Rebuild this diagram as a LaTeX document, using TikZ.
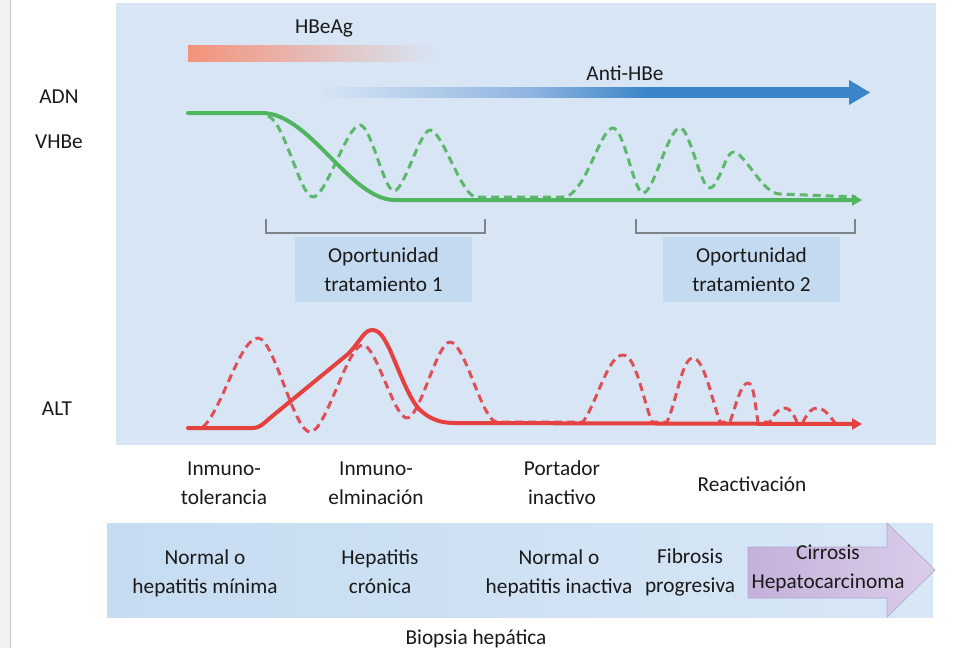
\documentclass[tikz,border=0pt]{standalone}
\usepackage{fontspec}
\setmainfont{Carlito}
\usetikzlibrary{arrows.meta}
\definecolor{panel}{HTML}{D7E5F5}
\definecolor{oppbox}{HTML}{C4DAF0}
\definecolor{salmon}{HTML}{F4927A}
\definecolor{antiblue}{HTML}{3A84C8}
\definecolor{antimid}{HTML}{8FB4E0}
\definecolor{grn}{HTML}{4FB55E}
\definecolor{grnd}{HTML}{5DB86C}
\definecolor{redl}{HTML}{E5413F}
\definecolor{redd}{HTML}{DF4F57}
\definecolor{bracketgray}{HTML}{808488}
\definecolor{bandL}{HTML}{C6DCF1}
\definecolor{bandR}{HTML}{D8E7F6}
\definecolor{purL}{HTML}{C5B0DA}
\definecolor{purR}{HTML}{DACDE9}
\definecolor{purB}{HTML}{B3A8D4}
\definecolor{txt}{HTML}{1A1A1A}
\pgfdeclarehorizontalshading{antishade}{100bp}{color(0bp)=(panel); color(25bp)=(panel); color(45bp)=(antimid); color(56bp)=(antiblue); color(75bp)=(antiblue); color(100bp)=(antiblue)}
\begin{document}
\begin{tikzpicture}[x=1pt,y=-1pt,
  lbl/.style={font=\fontsize{21.3}{29}\selectfont, text=txt, align=center, inner sep=0pt},
  solidcurve/.style={line width=4pt, line cap=round, line join=round},
  dashcurve/.style={line width=3pt, dash pattern=on 8pt off 5pt, line join=round},
  brk/.style={draw=bracketgray, line width=1.6pt},
  tipst/.style={-{Triangle[length=10pt,width=11pt]}}]

\useasboundingbox (0,0) rectangle (960,648);
\fill[white] (0,0) rectangle (960,648);
\fill[gray!10] (0,0) rectangle (10,648);
\draw[gray!45, line width=1.2pt] (10.5,0) -- (10.5,648);

% upper panel
\fill[panel] (116,3) rectangle (936,445);

% HBeAg bar
\shade[left color=salmon, right color=panel] (188,45) rectangle (436,61);
\node[lbl] (hbeag) at (324,28) {HBeAg};

% Anti-HBe arrow
\shade[shading=antishade] (318,87.5) rectangle (852,97.5);
\fill[antiblue] (849,80) -- (870,92.5) -- (849,105) -- cycle;
\node[lbl] (antihbe) at (625,73) {Anti-HBe};

% left labels
\node[lbl] (adn) at (59,97) {ADN};
\node[lbl] (vhbe) at (59,142) {VHBe};
\node[lbl] (alt) at (57,409) {ALT};

% green dashed
\draw[dashcurve, grnd] (268,116) .. controls (285,122) and (300,197) .. (313,197)
  .. controls (326,197) and (347,125) .. (360,125)
  .. controls (371,125) and (384,191) .. (394,191)
  .. controls (404,191) and (420,130) .. (430,130)
  .. controls (442,130) and (462,197) .. (476,197) -- (563,197)
  .. controls (585,197) and (600,128) .. (613,128)
  .. controls (624,128) and (634,193) .. (643,193)
  .. controls (654,193) and (668,128) .. (680,128)
  .. controls (690,128) and (700,188) .. (710,188)
  .. controls (718,188) and (726,152) .. (733,152)
  .. controls (745,152) and (762,194) .. (780,194) -- (856,197);
% green solid
\draw[solidcurve, grn, tipst] (188,113) -- (262,113) .. controls (310,113) and (350,200) .. (395,200) -- (862,200);

% brackets
\draw[brk] (266,219) -- (266,233) -- (485,233) -- (485,219);
\draw[brk] (636,219) -- (636,233) -- (855,233) -- (855,219);

% opportunity boxes
\node[lbl, fill=oppbox, minimum width=177pt, minimum height=65pt] (opp1) at (383.5,269.5) {Oportunidad\\tratamiento 1};
\node[lbl, fill=oppbox, minimum width=177pt, minimum height=65pt] (opp2) at (751.5,269.5) {Oportunidad\\tratamiento 2};

% red dashed
\draw[dashcurve, redd] (203,427) .. controls (222,410) and (240,338) .. (258,338)
  .. controls (274,338) and (294,432) .. (310,432)
  .. controls (326,432) and (347,345) .. (363,345)
  .. controls (376,345) and (394,418) .. (407,418)
  .. controls (420,418) and (437,342) .. (450,342)
  .. controls (465,342) and (482,422) .. (497,422) -- (583,422)
  .. controls (598,400) and (608,355) .. (623,355)
  .. controls (636,355) and (643,400) .. (652,422) -- (667,422)
  .. controls (677,400) and (682,358) .. (693,358)
  .. controls (704,358) and (712,400) .. (720,422) -- (730,422)
  .. controls (736,405) and (741,383) .. (748,383)
  .. controls (754,383) and (755,405) .. (758,422) -- (770,422)
  .. controls (775,412) and (780,408) .. (785,408)
  .. controls (790,408) and (794,415) .. (797,422) -- (803,422)
  .. controls (808,412) and (812,408) .. (817,408)
  .. controls (824,408) and (830,416) .. (835,423);
% red solid
\draw[solidcurve, redl, tipst] (188,428) -- (252,428) .. controls (260,428) and (263,424) .. (270,418)
  -- (348,354) .. controls (360,342) and (364,330) .. (372,330)
  .. controls (380,330) and (384,338) .. (390,350)
  .. controls (402,378) and (410,400) .. (420,410)
  .. controls (430,419) and (440,423) .. (455,423) -- (862,424);

% phase labels
\node[lbl] (p1) at (224,483) {Inmuno-\\tolerancia};
\node[lbl] (p2) at (376,483) {Inmuno-\\elminación};
\node[lbl] (p3) at (562,483) {Portador\\inactivo};
\node[lbl] (p4) at (752,484) {Reactivación};

% bottom band
\shade[left color=bandL, right color=bandR] (107,523) rectangle (933,617);
\shade[left color=purL, right color=purR, draw=purB, line width=0.7pt]
  (748,547) -- (887,547) -- (887,523) -- (935,570) -- (887,617) -- (887,598) -- (748,598) -- cycle;

\node[lbl] (b1) at (205,573) {Normal o\\hepatitis mínima};
\node[lbl] (b2) at (380,572) {Hepatitis\\crónica};
\node[lbl] (b3) at (559,573) {Normal o\\hepatitis inactiva};
\node[lbl] (b4) at (690,572) {Fibrosis\\progresiva};
\node[lbl] (b5) at (828,568) {Cirrosis\\Hepatocarcinoma};
\node[lbl] (bio) at (476,639) {Biopsia hepática};
\end{tikzpicture}
\end{document}
